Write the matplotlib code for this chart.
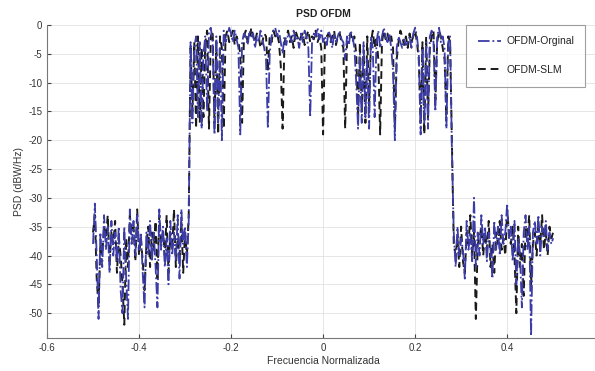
import numpy as np
import matplotlib
matplotlib.use("Agg")
import matplotlib.pyplot as plt

# Normalized frequency range of the PSD estimate
f_start, f_stop = -0.5, 0.5

psd_original = [
    -38, -31, -40, -51, -36, -42, -33, -39, -35, -43,
    -34, -40, -36, -41, -35, -46, -50, -35, -44, -51,
    -32, -38, -34, -40, -33, -39, -36, -43, -49, -36,
    -40, -34, -41, -36, -42, -49, -32, -39, -35, -42,
    -37, -45, -34, -40, -36, -41, -33, -44, -32, -38,
    -35, -42, -34, -3, -17, -4, -2, -16, -3, -18,
    -5, -2, -15, -1, -0.5, -3, -19, -2, -17, -4,
    -20, -1, -3, -2, -0.5, -1.5, -3, -1, -2.5, -4,
    -19, -3, -1.5, -2, -3.5, -1, -2, -1.5, -4, -2,
    -3, -1, -2.5, -4, -6, -18, -5, -2, -1, -0.5,
    -2, -1, -3, -5, -2, -3.5, -1.5, -2, -3, -1,
    -2.5, -2, -4, -1.5, -3, -1, -2, -4, -16, -3,
    -1.5, -2, -0.5, -2.5, -1, -3, -2, -3.5, -1, -2,
    -4, -1.5, -3, -2, -1, -2.5, -3, -6, -2, -3.5,
    -1, -2, -4, -10, -18, -5, -17, -3, -16, -6,
    -18, -2, -4, -16, -3, -1, -4, -2, -0.5, -2,
    -3, -1.5, -4, -8, -20, -4, -2, -3, -4, -2.5,
    -3.5, -3, -2, -4, -1.5, -0.5, -2, -5, -19, -4,
    -17, -3, -18, -2, -1, -3, -15, -2, -0.5, -3,
    -2, -4, -18, -3, -2, -22, -36, -42, -35, -40,
    -37, -39, -44, -34, -39, -36, -41, -30, -42, -36,
    -40, -33, -38, -35, -41, -36, -39, -44, -34, -39,
    -35, -40, -33, -38, -36, -31, -37, -35, -41, -34,
    -45, -37, -40, -49, -36, -33, -39, -35, -54, -36,
    -34, -38, -33, -40, -35, -37, -34, -39, -36, -38,
    -37,
]

psd_slm = [
    -36, -33, -44, -49, -38, -40, -35, -37, -33, -41,
    -36, -38, -34, -43, -37, -40, -45, -52, -37, -42,
    -33, -36, -35, -41, -32, -40, -37, -41, -46, -38,
    -35, -42, -36, -39, -34, -44, -33, -38, -36, -40,
    -33, -43, -36, -39, -32, -42, -37, -40, -34, -43,
    -36, -40, -33, -4, -15, -3, -18, -2, -17, -4,
    -16, -3, -1, -18, -2, -1, -17, -3, -19, -2,
    -4, -18, -2, -1, -3, -2, -1, -3.5, -2, -3,
    -5, -17, -2, -1, -3, -2.5, -0.5, -2, -3, -1.5,
    -2, -4, -3, -1.5, -2, -8, -2, -3, -1, -2,
    -1.5, -3, -7, -18, -3, -2, -1, -3, -2, -4,
    -1, -2, -3, -2, -1.5, -3.5, -2, -1, -3, -2,
    -2.5, -1, -3, -2, -4, -19, -3, -2, -1.5, -3,
    -2, -1, -3.5, -2, -1.5, -3, -4, -18, -3, -2,
    -1.5, -3, -2, -5, -16, -3, -15, -5, -17, -2,
    -14, -3, -1, -4, -2, -6, -19, -3, -1, -2.5,
    -1.5, -3, -2, -4, -18, -6, -3, -1, -2, -3.5,
    -2, -4, -1.5, -3, -2, -1, -3, -6, -17, -3,
    -19, -2, -16, -4, -2, -1, -13, -3, -1, -2,
    -4, -6, -16, -2, -3, -20, -38, -40, -37, -42,
    -35, -41, -43, -36, -38, -33, -40, -36, -51, -38,
    -37, -35, -40, -36, -39, -34, -42, -38, -43, -36,
    -38, -34, -39, -37, -40, -32, -36, -38, -35, -40,
    -50, -35, -42, -38, -47, -35, -37, -33, -45, -38,
    -36, -40, -35, -38, -33, -39, -36, -40, -35, -37,
    -36,
]

x_ticks = [-0.6, -0.4, -0.2, 0, 0.2, 0.4]
x_tick_labels = ["-0.6", "-0.4", "-0.2", "0", "0.2", "0.4"]
y_ticks = [0, -5, -10, -15, -20, -25, -30, -35, -40, -45, -50]
y_tick_labels = ["0", "-5", "-10", "-15", "-20", "-25", "-30", "-35", "-40", "-45", "-50"]

series_labels = ["OFDM-Orginal", "OFDM-SLM"]

freq_o = np.linspace(f_start, f_stop, len(psd_original))
freq_s = np.linspace(f_start, f_stop, len(psd_slm))

plt.rcParams['font.family'] = ['Liberation Sans', 'DejaVu Sans']

fig = plt.figure(figsize=(5.95, 3.71), dpi=100)
ax = fig.add_axes([0.079, 0.089, 0.928, 0.844])

ax.plot(freq_o, psd_original, linestyle='-.', color='#3c3ca6', lw=1.3,
        label=series_labels[0], zorder=3)
ax.plot(freq_s, psd_slm, linestyle=(0, (4, 2.5)), color='#1a1a1a', lw=1.4,
        label=series_labels[1], zorder=2)

ax.set_xlim(-0.6, 0.6)
ax.set_ylim(-54.3, 0)
ax.set_xticks(x_ticks)
ax.set_xticklabels(x_tick_labels)
ax.set_yticks(y_ticks)
ax.set_yticklabels(y_tick_labels)
ax.tick_params(direction='in', length=3, labelsize=7, colors='#444444',
               labelcolor='#333333')
ax.grid(True, color='#e2e2e2', lw=0.6)
ax.set_axisbelow(True)
for side in ['left', 'bottom']:
    ax.spines[side].set_color('#777777')
    ax.spines[side].set_linewidth(0.8)
ax.spines['top'].set_visible(False)
ax.spines['right'].set_visible(False)

ax.set_title("PSD OFDM", fontsize=7.5, fontweight='bold', pad=6, color='#222222')
ax.set_xlabel("Frecuencia Normalizada", fontsize=7.5, color='#333333', labelpad=2)
ax.set_ylabel("PSD (dBW/Hz)", fontsize=7.5, color='#333333', labelpad=3)

leg = ax.legend(loc='upper right', bbox_to_anchor=(0.975, 1.0), borderaxespad=0,
                fontsize=7.5, frameon=True, fancybox=False, edgecolor='#888888',
                labelspacing=1.8, handlelength=2.2, borderpad=1.1,
                handletextpad=0.5)
leg.get_frame().set_linewidth(0.8)
for t in leg.get_texts():
    t.set_color('#222222')

fig.savefig("out.png", dpi=100)
